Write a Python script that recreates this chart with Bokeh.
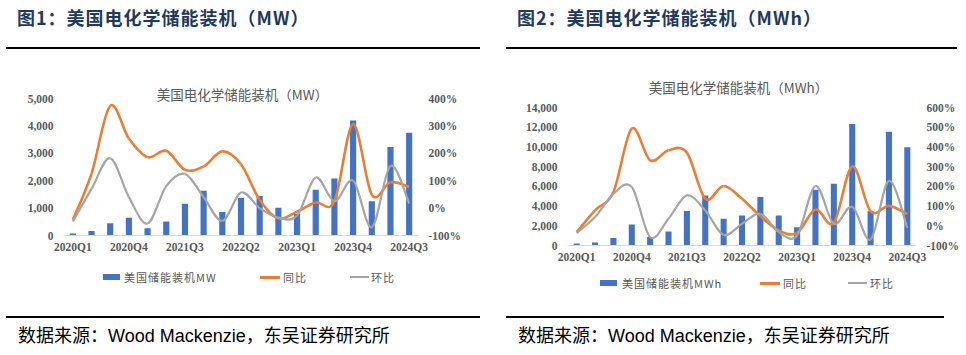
from bokeh.plotting import figure
from bokeh.models import (Range1d, LinearAxis, FixedTicker, NumeralTickFormatter,
                          PrintfTickFormatter, ColumnDataSource, Label, Div)
from bokeh.layouts import row, column
from bokeh.embed import file_html
from bokeh.resources import INLINE

# ---------------- data ----------------
quarters = ["2020Q1", "2020Q2", "2020Q3", "2020Q4",
            "2021Q1", "2021Q2", "2021Q3", "2021Q4",
            "2022Q1", "2022Q2", "2022Q3", "2022Q4",
            "2023Q1", "2023Q2", "2023Q3", "2023Q4",
            "2024Q1", "2024Q2", "2024Q3"]

mw_installed = [75, 160, 450, 646, 268, 512, 1159, 1634, 854, 1366,
                1439, 1012, 793, 1671, 2082, 4200, 1247, 3232, 3753]
mw_yoy = [-43, 126, 373, 254, 186, 209, 140, 152, 207, 160,
          30, -38, -13, 20, 25, 306, 49, 94, 78]
mw_qoq = [-49, 70, 182, 40, -56, 80, 125, 40, -47, 57,
          0, -35, -27, 112, 25, 100, -70, 154, 17]

mwh_installed = [200, 300, 750, 2140, 850, 1420, 3490, 5080, 2710, 3050,
                 4920, 3050, 1860, 5660, 6270, 12330, 3480, 11540, 9970]
mwh_yoy = [-32, 78, 171, 493, 332, 383, 371, 137, 202, 137,
           49, -24, -36, 82, 15, 301, 74, 101, 60]
mwh_qoq = [-37, 44, 162, 197, -58, 36, 154, 78, -46, 10,
           61, -32, -49, 202, 10, 96, -69, 228, -11]

series_names = ["同比", "环比"]
label_every = 3

BLUE = "#4472C4"
ORANGE = "#ED7D31"
GRAY = "#A5A5A5"
TXT = "#595959"
CJK = "Noto Sans CJK SC"
SERIF = "Liberation Serif"
FIG_H = 220
LEG_H = 30
FOOT_H = 55


def smooth_source(xs, ys):
    """Cubic Bezier segments through the data points (Excel-style smoothing)."""
    n = len(xs)
    d = dict(x0=[], y0=[], x1=[], y1=[], cx0=[], cy0=[], cx1=[], cy1=[])
    for i in range(n - 1):
        a = i - 1 if i > 0 else i
        b = i + 2 if i + 2 < n else i + 1
        d["x0"].append(xs[i]); d["y0"].append(ys[i])
        d["x1"].append(xs[i + 1]); d["y1"].append(ys[i + 1])
        d["cx0"].append(xs[i] + (xs[i + 1] - xs[a]) / 6.0)
        d["cy0"].append(ys[i] + (ys[i + 1] - ys[a]) / 6.0)
        d["cx1"].append(xs[i + 1] - (xs[b] - xs[i]) / 6.0)
        d["cy1"].append(ys[i + 1] - (ys[b] - ys[i]) / 6.0)
    return ColumnDataSource(d)


def make_chart(chart_title, bars, yoy, qoq, ymax, ystep, pmax,
               border_left, border_right, border_top, border_bottom, headroom, title_xy):
    idx = list(range(len(quarters)))
    # empty space above the top tick so the chart title sits inside the frame
    frame_h = FIG_H - border_top - border_bottom
    scale = frame_h / (frame_h - headroom)
    p = figure(width=483, height=FIG_H, output_backend="svg", toolbar_location=None,
               x_range=Range1d(-0.5, len(quarters) - 0.5),
               y_range=Range1d(0, ymax * scale),
               min_border_left=border_left, min_border_right=border_right,
               min_border_top=border_top, min_border_bottom=border_bottom)
    p.outline_line_color = None
    p.xgrid.visible = False
    p.ygrid.visible = False
    p.background_fill_color = "white"
    p.border_fill_color = "white"
    p.extra_y_ranges = {"pct": Range1d(-100, -100 + (pmax + 100) * scale)}

    src = ColumnDataSource(dict(x=idx, v=bars))
    p.vbar(x="x", top="v", width=0.33, source=src, fill_color=BLUE, line_color=None)
    p.bezier(x0="x0", y0="y0", x1="x1", y1="y1", cx0="cx0", cy0="cy0",
             cx1="cx1", cy1="cy1", source=smooth_source(idx, yoy),
             line_color=ORANGE, line_width=2.6, y_range_name="pct")
    p.bezier(x0="x0", y0="y0", x1="x1", y1="y1", cx0="cx0", cy0="cy0",
             cx1="cx1", cy1="cy1", source=smooth_source(idx, qoq),
             line_color=GRAY, line_width=2.2, y_range_name="pct")

    def style(ax):
        ax.axis_line_color = None
        ax.major_tick_line_color = None
        ax.minor_tick_line_color = None
        ax.major_tick_out = 0
        ax.major_tick_in = 0
        ax.minor_tick_out = 0
        ax.minor_tick_in = 0
        ax.major_label_text_font = SERIF
        ax.major_label_text_font_style = "bold"
        ax.major_label_text_font_size = "11.5px"
        ax.major_label_text_color = TXT

    xa = p.xaxis[0]
    style(xa)
    xa.axis_line_color = "#D9D9D9"
    xa.axis_line_width = 1
    xa.ticker = FixedTicker(ticks=idx[::label_every])
    xa.major_label_overrides = {i: quarters[i] for i in idx[::label_every]}
    xa.major_label_standoff = 5

    ya = p.yaxis[0]
    style(ya)
    ya.ticker = FixedTicker(ticks=list(range(0, ymax + 1, ystep)))
    ya.formatter = NumeralTickFormatter(format="0,0")
    ya.major_label_standoff = 10

    ra = LinearAxis(y_range_name="pct")
    style(ra)
    ra.ticker = FixedTicker(ticks=list(range(-100, pmax + 1, 100)))
    ra.formatter = PrintfTickFormatter(format="%d%%")
    ra.major_label_standoff = 10
    p.add_layout(ra, "right")

    p.add_layout(Label(x=title_xy[0], y=title_xy[1], x_units="screen", y_units="screen",
                       text=chart_title, text_font=CJK, text_font_size="13.5px",
                       text_color=TXT, text_align="center", text_baseline="middle"))
    return p


def legend_div(bar_name, cy, bar_x, bar_tx, yoy_x, yoy_tx, qoq_x, qoq_tx):
    txt = (f"position:absolute;top:{cy - 8}px;font-family:'{CJK}';font-size:11px;"
           f"line-height:16px;letter-spacing:1px;color:{TXT};white-space:nowrap;")
    html = (
        f'<div style="position:relative;width:483px;height:{LEG_H}px;">'
        f'<div style="position:absolute;left:{bar_x}px;top:{cy - 3}px;width:17px;height:6px;'
        f'background:{BLUE};"></div>'
        f'<div style="{txt}left:{bar_tx}px;">{bar_name}</div>'
        f'<div style="position:absolute;left:{yoy_x}px;top:{cy - 1}px;width:20px;height:3px;'
        f'background:{ORANGE};"></div>'
        f'<div style="{txt}left:{yoy_tx}px;">{series_names[0]}</div>'
        f'<div style="position:absolute;left:{qoq_x}px;top:{cy - 1}px;width:19px;height:2px;'
        f'background:{GRAY};"></div>'
        f'<div style="{txt}left:{qoq_tx}px;">{series_names[1]}</div>'
        '</div>')
    return Div(text=html, width=483, height=LEG_H, margin=0)


def header(text, left, rule_left, rule_width):
    html = (
        '<div style="position:relative;width:483px;height:50px;">'
        f'<div style="position:absolute;left:{left}px;top:6px;font-family:\'{CJK}\';'
        'font-size:18px;font-weight:bold;color:#1F3A60;white-space:nowrap;line-height:22px;'
        'letter-spacing:1px;">'
        f'{text}</div>'
        f'<div style="position:absolute;left:{rule_left}px;top:47px;width:{rule_width}px;'
        'height:2px;background:#000;"></div></div>')
    return Div(text=html, width=483, height=50, margin=0)


def footer(left, rule_left, rule_width):
    html = (
        f'<div style="position:relative;width:483px;height:{FOOT_H}px;">'
        f'<div style="position:absolute;left:{rule_left}px;top:16px;width:{rule_width}px;'
        'height:2px;background:#000;"></div>'
        f'<div style="position:absolute;left:{left}px;top:23px;font-family:\'{CJK}\';'
        'font-size:18px;color:#000;white-space:nowrap;line-height:22px;">'
        '数据来源：<span style="font-family:\'Liberation Sans\';">Wood Mackenzie</span>'
        '，东吴证券研究所</div></div>')
    return Div(text=html, width=483, height=FOOT_H, margin=0)


p1 = make_chart("美国电化学储能装机（MW）", mw_installed, mw_yoy, mw_qoq,
                5000, 1000, 400, 63, 65, 28, 35, 20, (179, 142))
p2 = make_chart("美国电化学储能装机（MWh）", mwh_installed, mwh_yoy, mwh_qoq,
                14000, 2000, 600, 84, 50, 21, 25, 36, (171, 159))
l1 = legend_div("美国储能装机MW", 7, 103, 124, 260, 283, 350, 371)
l2 = legend_div("美国储能装机MWh", 13, 117, 139, 277, 300, 365, 387)

left = column(header("图1：美国电化学储能装机（MW）", 17, 6, 474), p1, l1,
              footer(18, 6, 474), spacing=0)
right = column(header("图2：美国电化学储能装机（MWh）", 34, 23, 451), p2, l2,
               footer(35, 23, 438), spacing=0)
layout = row(left, right, spacing=0)

open("out.html", "w").write(file_html(layout, INLINE))
